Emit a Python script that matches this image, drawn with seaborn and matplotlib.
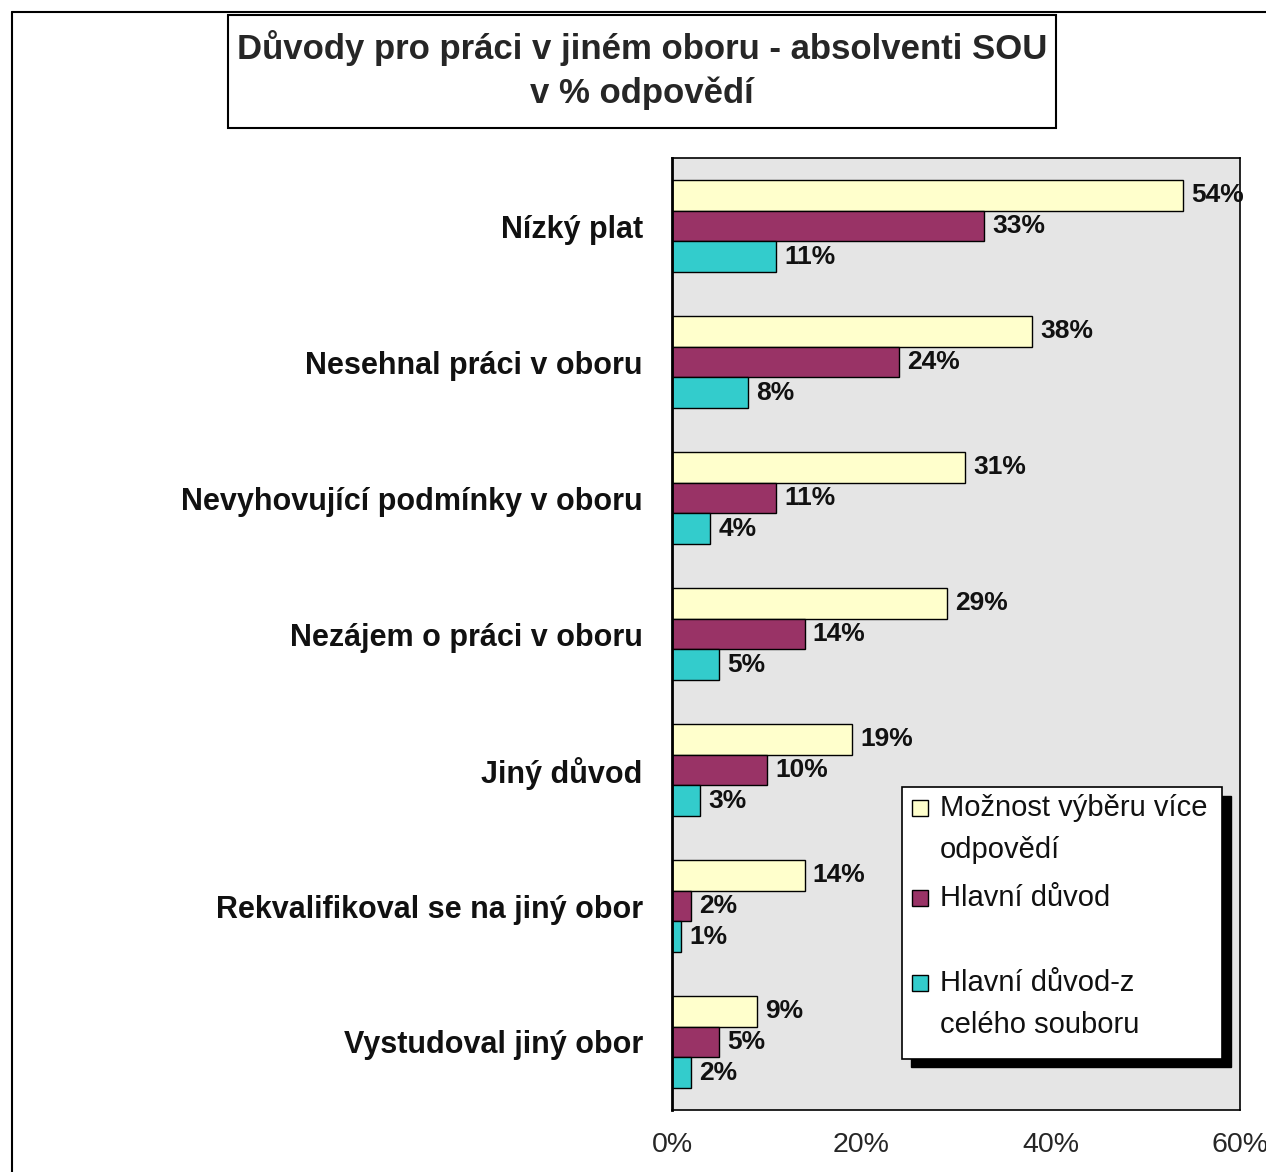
import matplotlib
matplotlib.use("Agg")
import matplotlib.pyplot as plt
import pandas as pd
import seaborn as sns
from matplotlib.lines import Line2D
from matplotlib.patches import Rectangle

categories = ["Nízký plat", "Nesehnal práci v oboru", "Nevyhovující podmínky v oboru",
              "Nezájem o práci v oboru", "Jiný důvod", "Rekvalifikoval se na jiný obor",
              "Vystudoval jiný obor"]
multi_answers = [54, 38, 31, 29, 19, 14, 9]
main_reason = [33, 24, 11, 14, 10, 2, 5]
main_reason_all = [11, 8, 4, 5, 3, 1, 2]
series_names = ["Možnost výběru více\nodpovědí", "Hlavní důvod", "Hlavní důvod-z\ncelého souboru"]
colors = ["#FFFFCC", "#993366", "#33CCCC"]
x_ticks = [0, 20, 40, 60]

df = pd.DataFrame({
    "category": categories * 3,
    "value": multi_answers + main_reason + main_reason_all,
    "series": [s for s in series_names for _ in categories],
})

sns.set_theme(style="white")
plt.rcParams["font.family"] = ["Liberation Sans", "DejaVu Sans"]

W, H = 1266, 1172
fig = plt.figure(figsize=(W / 100, H / 100), dpi=100)


def fx(px):
    return px / W


def fy(py):
    return 1 - py / H


ax = fig.add_axes([fx(672), fy(1110), fx(1240) - fx(672), fy(158) - fy(1110)])
ax.set_facecolor("#e5e5e5")

sns.barplot(data=df, y="category", x="value", hue="series", orient="h",
            palette=colors, saturation=1, width=0.68, edgecolor="black",
            linewidth=1, legend=False, ax=ax, errorbar=None)

for c in ax.containers:
    ax.bar_label(c, fmt="%d%%", padding=6, fontsize=19, fontweight="bold", color="#111111")

ax.set_xlim(0, 60)
ax.set_xticks(x_ticks)
ax.set_xticklabels([f"{t}%" for t in x_ticks])
ax.set_xlabel("")
ax.set_ylabel("")
ax.tick_params(axis="x", direction="out", length=6, width=1.2, labelsize=20.5, pad=10, color="black")
ax.tick_params(axis="y", length=0, pad=21)
for lbl in ax.get_yticklabels():
    lbl.set_fontsize(22)
    lbl.set_fontweight("bold")
    lbl.set_color("#111111")
for s in ax.spines.values():
    s.set_color("black")
    s.set_linewidth(1.2)
ax.spines["left"].set_linewidth(2)

# outer chart frame
fig.add_artist(Line2D([fx(12), fx(12)], [fy(12), 0], color="black", lw=1.5, transform=fig.transFigure))
fig.add_artist(Line2D([fx(12), 1], [fy(12), fy(12)], color="black", lw=1.5, transform=fig.transFigure))

# title box
fig.add_artist(Rectangle((fx(228), fy(128)), fx(1056) - fx(228), fy(15) - fy(128),
                         facecolor="white", edgecolor="black", lw=1.5, transform=fig.transFigure))
fig.text(fx(642), fy(70), "Důvody pro práci v jiném oboru - absolventi SOU\nv % odpovědí",
         ha="center", va="center", fontsize=25, fontweight="bold", linespacing=1.4)

# legend with shadow
fig.add_artist(Rectangle((fx(911), fy(1067)), fx(1231) - fx(911), fy(796) - fy(1067),
                         facecolor="black", edgecolor="black", transform=fig.transFigure, zorder=5))
fig.add_artist(Rectangle((fx(902), fy(1059)), fx(1222) - fx(902), fy(787) - fy(1059),
                         facecolor="white", edgecolor="black", lw=1.2, transform=fig.transFigure, zorder=6))
entry_y = [808, 898, 983]
for name, col, y in zip(series_names, colors, entry_y):
    fig.add_artist(Rectangle((fx(912), fy(y + 8)), fx(16), 16 / H, facecolor=col,
                             edgecolor="black", lw=1, transform=fig.transFigure, zorder=7))
    for i, line in enumerate(name.split("\n")):
        fig.text(fx(940), fy(y + i * 42), line, ha="left", va="center", fontsize=21,
                 color="#111111", zorder=8)

fig.savefig("out.png", dpi=100)
